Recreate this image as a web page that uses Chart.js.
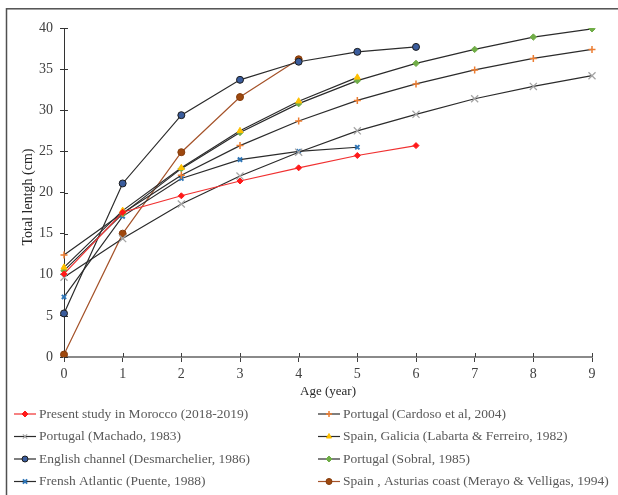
<!DOCTYPE html>
<html>
<head>
<meta charset="utf-8">
<script src="https://cdn.jsdelivr.net/npm/chart.js@4.4.1/dist/chart.umd.min.js"></script>
<style>
  html, body { margin: 0; padding: 0; background: #fff; }
  #wrap { width: 618px; height: 495px; }
</style>
</head>
<body>
<div id="wrap"><canvas id="growth" width="618" height="495"></canvas></div>
<script>
// age classes (years) and mean total length (cm) per study
var ages = ['0', '1', '2', '3', '4', '5', '6', '7', '8', '9'];
var morocco = [10.1, 17.6, 19.6, 21.4, 23.0, 24.5, 25.7];
var cardoso = [12.4, 17.5, 22.1, 25.7, 28.7, 31.2, 33.2, 34.9, 36.3, 37.4];
var machado = [9.7, 14.4, 18.6, 22.0, 24.9, 27.5, 29.5, 31.4, 32.9, 34.2];
var galicia = [10.9, 17.8, 23.0, 27.5, 31.1, 34.0];
var desmarchelier = [5.3, 21.1, 29.4, 33.7, 35.9, 37.1, 37.7];
var sobral = [10.5, 17.4, 22.9, 27.3, 30.8, 33.6, 35.7, 37.4, 38.9, 39.9];
var puente = [7.3, 17.1, 21.7, 24.0, 25.0, 25.5];
var asturias = [0.3, 15.0, 24.9, 31.6, 36.2];

var yTicks = { min: 0, max: 40, step: 5 };

var serif = '"Liberation Serif", "Times New Roman", serif';
var lineDark = '#2b2b2b';

function serie(label, data, line, style, radius, fill, stroke, bw) {
    return {
        label: label,
        data: data,
        borderColor: line,
        borderWidth: 1.2,
        pointStyle: style,
        pointRadius: radius,
        pointHoverRadius: radius,
        pointBackgroundColor: fill,
        pointBorderColor: stroke,
        pointBorderWidth: bw,
        tension: 0,
        fill: false
    };
}

var datasets = [
    serie('Present study in Morocco (2018-2019)', morocco, '#f03030', 'rectRot', 3, '#ff1a1a', '#ff1a1a', 1),
    serie('Portugal (Cardoso et al, 2004)', cardoso, lineDark, 'cross', 3.5, '#ed7d31', '#ed7d31', 1.5),
    serie('Portugal (Machado, 1983)', machado, lineDark, 'crossRot', 5, '#a5a5a5', '#a5a5a5', 1.3),
    serie('Spain, Galicia (Labarta & Ferreiro, 1982)', galicia, lineDark, 'triangle', 3.5, '#ffc000', '#ffc000', 1),
    serie('English channel (Desmarchelier, 1986)', desmarchelier, lineDark, 'circle', 3.5, '#3a5c9c', '#1c1c1c', 1),
    serie('Portugal (Sobral, 1985)', sobral, lineDark, 'rectRot', 3.2, '#70ad47', '#70ad47', 1),
    serie('Frensh Atlantic (Puente, 1988)', puente, lineDark, 'crossRot', 3, '#2e75b6', '#2e75b6', 2),
    serie('Spain , Asturias coast (Merayo & Velligas, 1994)', asturias, '#a5532a', 'circle', 3.5, '#9e480e', '#843c0c', 1)
];

// ticks that cross the axis lines (chart.js only draws the outer half)
var innerTicks = {
    id: 'innerTicks',
    beforeDatasetsDraw: function (chart) {
        var ctx = chart.ctx, xs = chart.scales.x, ys = chart.scales.y;
        ctx.save();
        ctx.lineWidth = 1;
        ctx.strokeStyle = '#333333';
        ys.ticks.forEach(function (t) {
            var py = Math.round(ys.getPixelForValue(t.value)) + 0.5;
            ctx.beginPath();
            ctx.moveTo(ys.right, py);
            ctx.lineTo(ys.right + 4, py);
            ctx.stroke();
        });
        ctx.strokeStyle = '#404040';
        xs.ticks.forEach(function (t, i) {
            var px = Math.round(xs.getPixelForTick(i)) + 0.5;
            ctx.beginPath();
            ctx.moveTo(px, xs.top);
            ctx.lineTo(px, xs.top - 4);
            ctx.stroke();
        });
        ctx.restore();
    }
};

// outer frame, axis titles and the two-column legend
var extras = {
    id: 'extras',
    afterDraw: function (chart) {
        var ctx = chart.ctx;
        ctx.save();
        ctx.strokeStyle = '#505050';
        ctx.lineWidth = 1.5;
        ctx.strokeRect(6.5, 8.8, 700, 600);

        ctx.fillStyle = '#262626';
        ctx.textAlign = 'center';
        ctx.textBaseline = 'middle';
        ctx.font = '13px ' + serif;
        ctx.fillText('Age (year)', 328, 392);
        ctx.font = '14px ' + serif;
        ctx.translate(28, 197);
        ctx.rotate(-Math.PI / 2);
        ctx.fillText('Total lentgh (cm)', 0, 0);
        ctx.restore();

        var cols = [14, 318];
        var rows = [414, 436.5, 459, 481.5];
        ctx.save();
        ctx.font = '13.5px ' + serif;
        ctx.textBaseline = 'middle';
        chart.data.datasets.forEach(function (ds, i) {
            var x = cols[i % 2], y = rows[Math.floor(i / 2)];
            ctx.strokeStyle = ds.borderColor;
            ctx.lineWidth = 1.2;
            ctx.beginPath();
            ctx.moveTo(x, y);
            ctx.lineTo(x + 22, y);
            ctx.stroke();
            ctx.fillStyle = ds.pointBackgroundColor;
            ctx.strokeStyle = ds.pointBorderColor;
            ctx.lineWidth = ds.pointBorderWidth;
            Chart.helpers.drawPoint(ctx, {
                pointStyle: ds.pointStyle,
                radius: Math.min(ds.pointRadius, 3),
                rotation: 0,
                borderWidth: ds.pointBorderWidth
            }, x + 11, y);
            ctx.fillStyle = '#595959';
            ctx.fillText(ds.label, x + 25, y);
        });
        ctx.restore();
    }
};

new Chart(document.getElementById('growth'), {
    type: 'line',
    data: { labels: ages, datasets: datasets },
    options: {
        responsive: false,
        animation: false,
        layout: { padding: { left: 0, right: 26, top: 28, bottom: 100 } },
        plugins: {
            legend: { display: false },
            tooltip: { enabled: false }
        },
        scales: {
            x: {
                type: 'category',
                offset: false,
                afterFit: function (s) { s.height = 38; },
                grid: { drawOnChartArea: false, tickLength: 5, tickColor: '#404040', tickWidth: 1 },
                border: { color: '#8a8a8a', width: 2 },
                ticks: { color: '#404040', font: { family: serif, size: 14 }, padding: 4, maxRotation: 0 }
            },
            y: {
                min: yTicks.min,
                max: yTicks.max,
                afterFit: function (s) { s.width = 64; },
                grid: { drawOnChartArea: false, tickLength: 4, tickColor: '#333333' },
                border: { color: '#333333', width: 1 },
                ticks: { stepSize: yTicks.step, color: '#404040', font: { family: serif, size: 14 }, padding: 7 }
            }
        }
    },
    plugins: [innerTicks, extras]
});
</script>
</body>
</html>
